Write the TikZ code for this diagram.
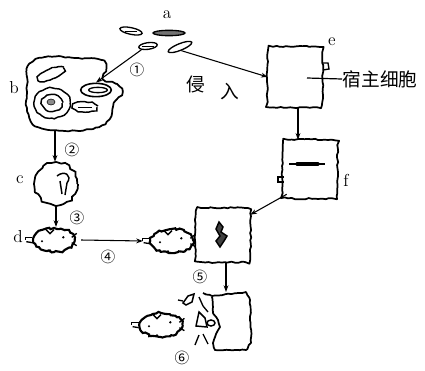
\documentclass[tikz,border=0pt]{standalone}
\usepackage{fontspec}
\newfontfamily\cjk{Noto Sans CJK SC}
\usetikzlibrary{arrows.meta,decorations.pathmorphing,shapes.geometric}

\tikzset{
  wobbly/.style={decorate,decoration={random steps,segment length=2.5pt,amplitude=0.5pt}},
  cellline/.style={line width=1.3pt,wobbly,line join=round},
  cellbox/.style={inner sep=0pt},
  bumpy/.style={draw,line width=1.3pt,decorate,decoration={random steps,segment length=3pt,amplitude=1pt},inner sep=0pt},
  tcell/.style={ellipse,draw,line width=1.6pt,decorate,decoration={random steps,segment length=2pt,amplitude=0.9pt},minimum width=31pt,minimum height=18pt,inner sep=0pt},
  germ/.style={ellipse,draw,line width=1pt,minimum height=5pt,inner sep=0pt},
  organelle/.style={line width=1.1pt,wobbly},
  arr/.style={-{Stealth[length=5pt,width=3.6pt]},line width=0.8pt},
  lbl/.style={font=\fontsize{13}{13}\selectfont,inner sep=0.5pt},
  cjklbl/.style={font=\cjk\fontsize{14}{14}\selectfont,inner sep=0.5pt},
  numlbl/.style={font=\cjk\fontsize{11}{11}\selectfont,inner sep=0pt}
}

\begin{document}
\begin{tikzpicture}[x=0.75pt,y=0.75pt,yscale=-1,xscale=1]
    \useasboundingbox (0,0) rectangle (425,371);
    \pgfmathsetseed{7}

    % Pathogens a
    \node[germ,minimum width=17pt,rotate=-12] (a1) at (131,31) {};
    \node[germ,minimum width=24pt,minimum height=4pt,fill=black!55] (a2) at (169,33) {};
    \node[germ,minimum width=14pt,rotate=8] (a3) at (148,46) {};
    \node[germ,minimum width=19pt,rotate=22] (a4) at (180,47) {};
    \draw (125,31) -- (137,31);
    \draw (142,46) -- (154,46);
    \node[lbl] (lblA) at (167,15) {a};

    % Cell b (phagocyte)
    \draw[cellline] plot[smooth cycle,tension=0.6] coordinates {(28,66) (45,57) (75,58) (101,60) (106,68) (103,79) (117,84) (122,92) (114,103) (111,116) (99,127) (65,131) (35,126) (27,108) (27,85)};
    \coordinate (bBot) at (55,130);
    \draw[organelle,rotate around={-26:(51,74)}] (51,74) ellipse [x radius=14,y radius=5];
    \draw[organelle] (52,103) ellipse [x radius=18,y radius=15];
    \draw[organelle] (52,103) ellipse [x radius=10,y radius=8];
    \draw[fill=black!45] (51,102) ellipse [x radius=4,y radius=3];
    \node[ellipse,draw,line width=1.2pt,minimum width=23pt,minimum height=10pt,inner sep=0pt] (vac) at (96,90) {};
    \node[germ,minimum width=14pt,minimum height=4pt] (aIn) at (98,90) {};
    \draw[organelle] (85,107) ellipse [x radius=12,y radius=5];
    \draw (78,107) -- (92,107);
    \node[lbl] (lblB) at (14,88) {b};

    % Cell c
    \node[bumpy,circle,minimum size=32pt] (cellC) at (56,184) {};
    \draw[line width=1.1pt] (57,176) .. controls (64,170) and (73,175) .. (67,183) -- (65,195);
    \draw[line width=1.1pt] (60,181) -- (62,194);
    \node[lbl] (lblC) at (20,180) {c};

    % T cells
    \node[tcell] (tD) at (54,240) {};
    \node[tcell,minimum width=32pt] (tA) at (172,241) {};
    \node[tcell,minimum width=32pt] (tK) at (161,325) {};
    \foreach \t in {tD,tA,tK} {
        \draw[line width=1pt] ([yshift=-2pt]\t.west) -- ++(-7,0) -- ++(0,3);
        \draw[line width=1pt] ([yshift=2pt]\t.west) -- ++(-6,-1);
        \draw[line width=1pt] ([xshift=-3pt,yshift=-2pt]\t.east) -- ++(5,-4);
        \draw[line width=1pt] ([xshift=-3pt,yshift=2pt]\t.east) -- ++(5,3);
        \draw[line width=1pt] ([xshift=-6pt,yshift=2pt]\t.north) -- ++(4,4) -- ++(4,-4);
        \fill ([xshift=7pt,yshift=-2pt]\t.center) circle (1.3);
        \fill ([xshift=-3pt,yshift=-2pt]\t.south) circle (1.3);
        \fill ([xshift=-9pt,yshift=1pt]\t.center) circle (1.1);
    }
    \node[lbl] (lblD) at (18,237) {d};

    % Host cell e, cell f, target cell
    \node[cellbox,minimum width=40.5pt,minimum height=45pt] (hostE) at (295,77) {};
    \node[cellbox,minimum width=40.5pt,minimum height=43.5pt] (cellF) at (310,169) {};
    \node[cellbox,minimum width=40.5pt,minimum height=40pt] (tgt) at (223,235) {};
    \foreach \c in {hostE,cellF,tgt} {
        \draw[cellline] plot[smooth cycle,tension=0.4] coordinates {([xshift=4pt]\c.north west) ([xshift=-4pt]\c.north east) ([yshift=4pt]\c.north east) ([yshift=-4pt]\c.south east) ([xshift=-4pt]\c.south east) ([xshift=4pt]\c.south west) ([yshift=-4pt]\c.south west) ([yshift=4pt]\c.north west)};
    }
    \draw[line width=1pt] (322,63) -- (328,63) -- (329,69) -- (323,70);
    \coordinate (hostIn) at (307,78);
    \node[cjklbl,anchor=west] (hostLbl) at (342,79) {宿主细胞};
    \draw[line width=0.9pt] (hostIn) -- (hostLbl.west);
    \node[lbl] (lblE) at (332,42) {e};

    \draw[line width=0.8pt] (289,164) -- (325,164);
    \draw[line width=2.4pt,line cap=round] (297,164) -- (318,164);
    \draw[line width=1pt] (284,177) -- (278,177) -- (278,182) -- (284,182);
    \node[lbl] (lblF) at (346,180) {f};

    \draw[line width=1.1pt,fill=black!75] (219,222) -- (223,227) -- (221,232) -- (227,236) -- (224,241) -- (220,247) -- (216,241) -- (220,236) -- (216,229) -- cycle;

    % Lysed cell
    \coordinate (lysTop) at (226,292);
    \draw[cellline] (203,293) -- (212,296) -- (246,292) -- (250,300) -- (251,343) -- (246,350) -- (215,350) -- (213,343) -- (216,334) -- (220,327) -- (218,320) -- (213,313) -- (212,297);
    \draw[line width=1.1pt] (183,303) -- (188,296) -- (194,294) -- (192,302) -- (186,305) -- cycle;
    \draw[line width=1pt] (178,300) -- (183,301);
    \draw[line width=1pt] (199,297) -- (203,306) -- (208,312);
    \draw[line width=1.1pt] (196,326) -- (199,312) -- (205,318) -- (207,327) -- cycle;
    \draw[line width=1.1pt] (211,323) ellipse [x radius=4,y radius=3];
    \draw[line width=1pt] (195,345) -- (199,335);
    \draw[line width=1pt] (203,334) -- (208,344);

    % Arrows
    \draw[arr] (a3.south west) -- (vac.north);
    \draw[arr] (a4.south) -- (hostE.west);
    \draw[arr] (bBot) -- (bBot |- cellC.north);
    \draw[arr] (cellC.south) -- (cellC.south |- tD.north);
    \draw[arr] ([xshift=4pt]tD.east) -- ([xshift=-5pt]tA.west);
    \draw[arr] ([xshift=2.25pt]hostE.south) -- ([xshift=2.25pt]hostE.south |- cellF.north);
    \draw[arr] ([xshift=3pt,yshift=-3pt]cellF.south west) -- ([yshift=5pt]tgt.north east);
    \draw[arr] ([xshift=2.25pt]tgt.south) -- (lysTop);

    % Step labels
    \node[numlbl] (n1) at (137,70) {①};
    \node[numlbl] (n2) at (72,150) {②};
    \node[numlbl] (n3) at (77,218) {③};
    \node[numlbl] (n4) at (108,257) {④};
    \node[numlbl] (n5) at (200,277) {⑤};
    \node[numlbl] (n6) at (182,358) {⑥};
    \node[cjklbl] (inv1) at (196,84) {侵};
    \node[cjklbl] (inv2) at (230,92) {入};
\end{tikzpicture}
\end{document}
